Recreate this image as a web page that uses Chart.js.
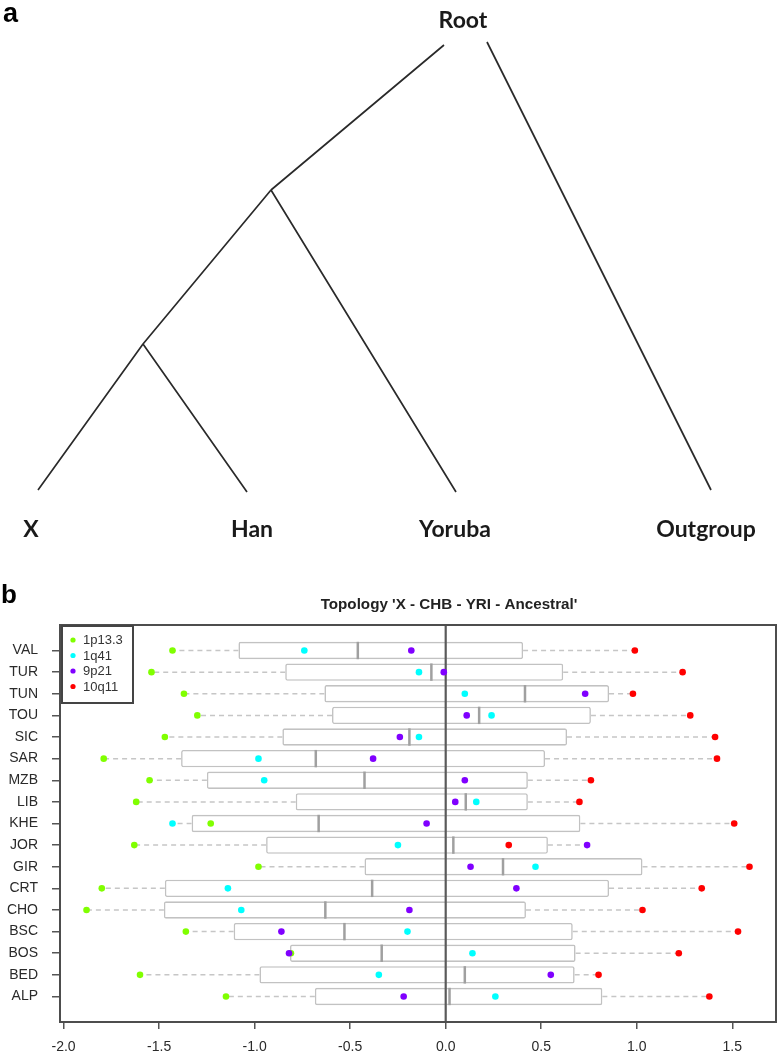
<!DOCTYPE html>
<html><head><meta charset="utf-8">
<script src="https://cdn.jsdelivr.net/npm/chart.js@4.4.1/dist/chart.umd.min.js"></script>
<style>
html,body{margin:0;padding:0;background:#fff;}
#wrap{position:relative;width:779px;height:1059px;overflow:hidden;background:#fff;}
#treeBox{position:absolute;left:0;top:0;width:779px;height:560px;}
#boxBox{position:absolute;left:0;top:560px;width:779px;height:499px;}
canvas{display:block;}
</style></head><body>
<div id="wrap">
<div id="treeBox"><canvas id="tree" width="779" height="560"></canvas></div>
<div id="boxBox"><canvas id="box" width="779" height="499"></canvas></div>
</div>
<script>
// ---------- Panel a: schematic tree (schematic units) ----------
const treeNodeNames = ['RootL','RootR','N1','N2','X','Han','Yoruba','Outgroup'];
const treeNodeX = [444, 487, 271, 143, 38, 247, 456, 711];
const treeNodeY = [45, 42, 190, 344, 490, 492, 492, 490];
const treeEdges = [['RootL','N1'],['N1','N2'],['N2','X'],['N2','Han'],['N1','Yoruba'],['RootR','Outgroup']];
const treeLabels = ['Root','X','Han','Yoruba','Outgroup'];
const treeLabelX = [463, 31, 252, 455, 706];
const treeLabelY = [21, 530, 530, 530, 530];

// ---------- Panel b: data ----------
const populations = ['VAL','TUR','TUN','TOU','SIC','SAR','MZB','LIB','KHE','JOR','GIR','CRT','CHO','BSC','BOS','BED','ALP'];
const loci = ['1p13.3','1q41','9p21','10q11'];
const locusColors = ['#80FF00','#00FFFF','#8000FF','#FF0000'];
const val1p133 = [-1.43,-1.54,-1.37,-1.30,-1.47,-1.79,-1.55,-1.62,-1.23,-1.63,-0.98,-1.80,-1.88,-1.36,-0.81,-1.60,-1.15];
const val1q41  = [-0.74,-0.14, 0.10, 0.24,-0.14,-0.98,-0.95, 0.16,-1.43,-0.25, 0.47,-1.14,-1.07,-0.20, 0.14,-0.35, 0.26];
const val9p21  = [-0.18,-0.01, 0.73, 0.11,-0.24,-0.38, 0.10, 0.05,-0.10, 0.74, 0.13, 0.37,-0.19,-0.86,-0.82, 0.55,-0.22];
const val10q11 = [ 0.99, 1.24, 0.98, 1.28, 1.41, 1.42, 0.76, 0.70, 1.51, 0.33, 1.59, 1.34, 1.03, 1.53, 1.22, 0.80, 1.38];
const xTickValues = [-2.0,-1.5,-1.0,-0.5,0.0,0.5,1.0,1.5];
const chartTitle = "Topology 'X - CHB - YRI - Ancestral'";

// ---------- Tree chart ----------
const nodeIndex = n => treeNodeNames.indexOf(n);
const edgeData = [];
treeEdges.forEach(([a,b]) => {
  edgeData.push({x: treeNodeX[nodeIndex(a)], y: treeNodeY[nodeIndex(a)]});
  edgeData.push({x: treeNodeX[nodeIndex(b)], y: treeNodeY[nodeIndex(b)]});
  edgeData.push({x: null, y: null});
});

const treeTextPlugin = {
  id: 'treeText',
  afterDraw(chart) {
    const ctx = chart.ctx, xs = chart.scales.x, ys = chart.scales.y;
    ctx.save();
    ctx.fillStyle = '#000';
    ctx.font = 'bold 27px "Liberation Sans", Arial, sans-serif';
    ctx.textAlign = 'left'; ctx.textBaseline = 'alphabetic';
    ctx.fillText('a', 3, 22);
    ctx.fillStyle = '#1a1a1a';
    ctx.font = 'bold 23px Lato, "Open Sans", sans-serif';
    ctx.textAlign = 'center'; ctx.textBaseline = 'middle';
    treeLabels.forEach((t,i) => {
      ctx.fillText(t, xs.getPixelForValue(treeLabelX[i]), ys.getPixelForValue(treeLabelY[i]));
    });
    ctx.restore();
  }
};

new Chart(document.getElementById('tree'), {
  type: 'scatter',
  data: { datasets: [{
    data: edgeData, showLine: true, spanGaps: false,
    borderColor: '#2a2a2a', borderWidth: 1.7, pointRadius: 0
  }]},
  options: {
    responsive: false, animation: false,
    layout: { padding: 0 },
    plugins: { legend: {display:false}, tooltip: {enabled:false} },
    scales: {
      x: { type:'linear', min:0, max:779, display:false },
      y: { type:'linear', min:0, max:560, reverse:true, display:false }
    }
  },
  plugins: [treeTextPlugin]
});

// ---------- Box plot chart ----------
const nPop = populations.length;
const rowPos = populations.map((p,i) => nPop - i);
const series = [val1p133, val1q41, val9p21, val10q11];

function fivenum(arr) {
  const x = arr.slice().sort((a,b) => a-b);
  const n = x.length;
  const n4 = Math.floor((n + 3) / 2) / 2;
  const d = [1, n4, (n + 1) / 2, n + 1 - n4, n];
  return d.map(di => 0.5 * (x[Math.floor(di) - 1] + x[Math.ceil(di) - 1]));
}
const stats = populations.map((p,i) => fivenum(series.map(s => s[i])));
const allVals = series.flat();
const dMin = Math.min(...allVals), dMax = Math.max(...allVals);
const xMin = dMin - 0.04 * (dMax - dMin), xMax = dMax + 0.04 * (dMax - dMin);
const yMin = 0.5 - 0.04 * nPop, yMax = nPop + 0.5 + 0.04 * nPop;

const whiskerData = [];
stats.forEach((s,i) => {
  whiskerData.push({x:s[1], y:rowPos[i]}, {x:s[0], y:rowPos[i]}, {x:null, y:null});
  whiskerData.push({x:s[3], y:rowPos[i]}, {x:s[4], y:rowPos[i]}, {x:null, y:null});
});

const datasets = [
  { type:'bar', indexAxis:'y', order:10,
    data: stats.map((s,i) => ({x:[s[1], s[3]], y:rowPos[i]})),
    backgroundColor:'#ffffff', borderColor:'#c2c2c2', borderWidth:1.6,
    borderSkipped:false, borderRadius:2, categoryPercentage:0.8, barPercentage:1 },
  { type:'scatter', order:9, data: whiskerData, showLine:true, spanGaps:false,
    borderColor:'#c6c6c6', borderWidth:1.5, borderDash:[5,4], pointRadius:0 },
  { type:'scatter', order:8, data: stats.map((s,i) => ({x:s[2], y:rowPos[i]})),
    pointStyle:'line', pointRotation:90, pointRadius:8.7,
    pointBorderColor:'#a0a0a0', pointBorderWidth:2.5 },
  { type:'scatter', order:7, data:[{x:0, y:yMin},{x:0, y:yMax}], showLine:true,
    borderColor:'#5a5a5a', borderWidth:2.2, pointRadius:0 }
];
series.forEach((s,k) => {
  datasets.push({ type:'scatter', label: loci[k], order: 4 - k,
    data: s.map((v,i) => ({x:v, y:rowPos[i]})),
    pointRadius:3.3, pointBackgroundColor: locusColors[k], pointBorderWidth:0 });
});

const boxDecorPlugin = {
  id: 'boxDecor',
  afterDraw(chart) {
    const ctx = chart.ctx, a = chart.chartArea;
    ctx.save();
    // frame
    ctx.strokeStyle = '#4d4d4d'; ctx.lineWidth = 2;
    ctx.strokeRect(a.left, a.top, a.right - a.left, a.bottom - a.top);
    // legend box
    const lx = 62, ly = 66, lw = 71, lh = 77;
    ctx.fillStyle = '#fff';
    ctx.fillRect(lx, ly, lw, lh);
    ctx.strokeStyle = '#444'; ctx.lineWidth = 2;
    ctx.strokeRect(lx, ly, lw, lh);
    ctx.font = '13px "Liberation Sans", Arial, sans-serif';
    ctx.textAlign = 'left'; ctx.textBaseline = 'middle';
    loci.forEach((t,k) => {
      const yy = ly + 14 + k * 15.5;
      ctx.beginPath(); ctx.fillStyle = locusColors[k];
      ctx.arc(lx + 11, yy, 2.6, 0, Math.PI * 2); ctx.fill();
      ctx.fillStyle = '#333';
      ctx.fillText(t, lx + 21, yy + 0.5);
    });
    // panel letter
    ctx.fillStyle = '#000';
    ctx.font = 'bold 26px "Liberation Sans", Arial, sans-serif';
    ctx.textBaseline = 'alphabetic';
    ctx.fillText('b', 1, 43);
    // title
    ctx.fillStyle = '#222';
    ctx.font = 'bold 15.2px "Liberation Sans", Arial, sans-serif';
    ctx.textAlign = 'center'; ctx.textBaseline = 'middle';
    ctx.fillText(chartTitle, 449, 45);
    ctx.restore();
  }
};

const tickFont = { family: '"Liberation Sans", Arial, sans-serif', size: 14 };
new Chart(document.getElementById('box'), {
  type: 'bar',
  data: { datasets },
  options: {
    responsive: false, animation: false,
    layout: { padding: { top: 65, right: 3, left: 0, bottom: 0 }, autoPadding: false },
    plugins: { legend: {display:false}, tooltip: {enabled:false} },
    scales: {
      x: { type:'linear', min:xMin, max:xMax, offset:false, beginAtZero:false, grace:0,
        afterBuildTicks: s => { s.ticks = xTickValues.map(v => ({value:v})); },
        afterFit: s => { s.height = 37; s.paddingLeft = 0; s.paddingRight = 0; },
        ticks: { callback: v => Number(v).toFixed(1), font: tickFont, color:'#2a2a2a',
                 padding: 10, maxRotation: 0, autoSkip: false },
        grid: { offset:false, drawOnChartArea:false, drawTicks:true, tickLength:7, color:'#555', lineWidth:1.5 },
        border: { display:true, color:'#555', width:2 } },
      y: { type:'linear', min:yMin, max:yMax, offset:false, beginAtZero:false, grace:0,
        afterBuildTicks: s => { s.ticks = rowPos.map(v => ({value:v})); },
        afterFit: s => { s.width = 60; s.paddingTop = 0; s.paddingBottom = 0; },
        ticks: { callback: v => populations[nPop - v], font: tickFont, color:'#2a2a2a',
                 padding: 14, autoSkip: false },
        grid: { offset:false, drawOnChartArea:false, drawTicks:true, tickLength:8, color:'#555', lineWidth:1.5 },
        border: { display:true, color:'#555', width:2 } }
    }
  },
  plugins: [boxDecorPlugin]
});
</script>
</body></html>
